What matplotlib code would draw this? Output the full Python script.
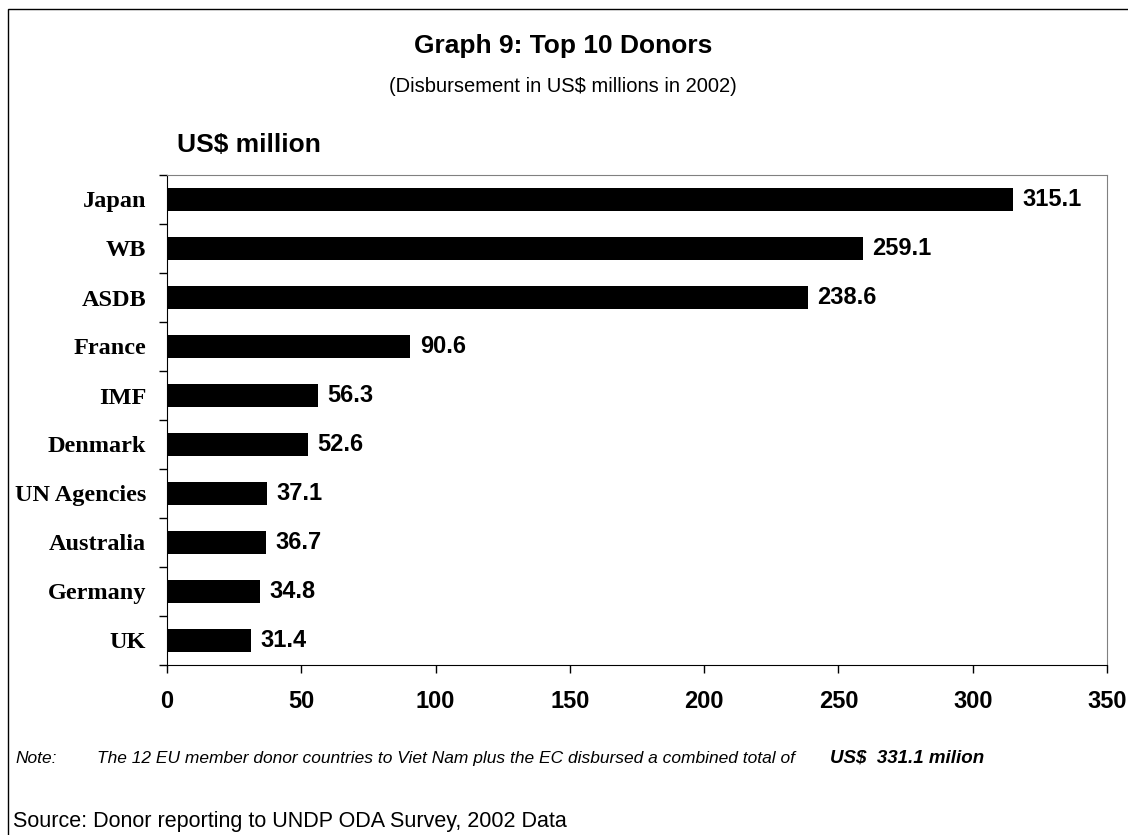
import matplotlib
matplotlib.use("Agg")
import matplotlib.pyplot as plt
import numpy as np
from matplotlib.patches import Rectangle

donors = ["Japan", "WB", "ASDB", "France", "IMF", "Denmark",
          "UN Agencies", "Australia", "Germany", "UK"]
amounts = [315.1, 259.1, 238.6, 90.6, 56.3, 52.6, 37.1, 36.7, 34.8, 31.4]
x_ticks = [0, 50, 100, 150, 200, 250, 300, 350]

sans = "Liberation Sans"
serif = "Liberation Serif"

fig = plt.figure(figsize=(11.28, 8.35), dpi=100)
ax = fig.add_axes([167 / 1128, 1 - 665 / 835, 940 / 1128, 490 / 835])

# first donor at the top
pos = np.arange(len(donors))[::-1]
ax.barh(pos, amounts, height=0.47, color="black")
for p, v in zip(pos, amounts):
    ax.text(v + 3.5, p, f"{v:.1f}", va="center", ha="left",
            fontsize=17, fontweight="bold", family=sans)

ax.set_xlim(0, 350)
ax.set_ylim(-0.5, len(donors) - 0.5)
ax.set_xticks(x_ticks)
ax.set_xticklabels([str(t) for t in x_ticks], fontsize=17,
                   fontweight="bold", family=sans)
ax.tick_params(axis="x", direction="out", length=6, width=1, pad=12)

# category boundaries get the tick marks, labels sit in between
ax.set_yticks(np.arange(len(donors) + 1) - 0.5)
ax.set_yticklabels([])
ax.tick_params(axis="y", which="major", direction="out", length=6, width=1)
ax.set_yticks(pos, minor=True)
ax.set_yticklabels(donors, minor=True, fontsize=17.5, fontweight="bold",
                   family=serif)
ax.tick_params(axis="y", which="minor", length=0, pad=15)

for s in ["top", "right"]:
    ax.spines[s].set_color("#808080")
for s in ["left", "bottom"]:
    ax.spines[s].set_color("black")

fig.text(563 / 1128, 1 - 46 / 835, "Graph 9: Top 10 Donors", ha="center",
         va="center", fontsize=19, fontweight="bold", family=sans)
fig.text(563 / 1128, 1 - 87 / 835, "(Disbursement in US$ millions in 2002)",
         ha="center", va="center", fontsize=14.5, family=sans)
fig.text(177 / 1128, 1 - 145 / 835, "US$ million", ha="left", va="center",
         fontsize=19, fontweight="bold", family=sans)

note_y = 1 - 763 / 835
fig.text(15 / 1128, note_y, "Note:", ha="left", va="baseline",
         fontsize=12.5, style="italic", family=sans)
fig.text(97 / 1128, note_y,
         "The 12 EU member donor countries to Viet Nam plus the EC disbursed a combined total of",
         ha="left", va="baseline", fontsize=12.5, style="italic", family=sans)
fig.text(830 / 1128, note_y, "US$  331.1 milion", ha="left",
         va="baseline", fontsize=13.5, style="italic", fontweight="bold",
         family=sans)
fig.text(13 / 1128, 1 - 822 / 835,
         "Source: Donor reporting to UNDP ODA Survey, 2002 Data",
         ha="left", va="center", fontsize=15.5, family=sans)

# outer frame of the chart
fig.patches.append(Rectangle((8 / 1128, -0.05), 1.2, 1 - 9 / 835 + 0.05,
                             transform=fig.transFigure, fill=False,
                             edgecolor="black", linewidth=1))

fig.savefig("out.png", dpi=100)
